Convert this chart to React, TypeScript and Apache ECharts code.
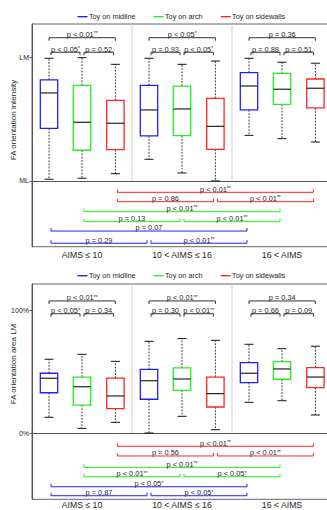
import React, { useEffect, useRef } from "react";
import * as echarts from "echarts";

// ---------- data ----------
const groups = ["AIMS ≤ 10", "10 < AIMS ≤ 16", "16 < AIMS"];
const seriesNames = ["Toy on midline", "Toy on arch", "Toy on sidewalls"];

// Panel 1: FA orientation intensity (ML = 0, LM = 100); per group [min, q1, median, q3, max]
const intensityMidline = [[1.4, 42.7, 71.4, 82.0, 99.5], [17.6, 36.5, 57.6, 77.6, 99.5], [37.0, 57.6, 77.0, 87.8, 99.5]];
const intensityArch = [[2.2, 24.9, 47.6, 77.6, 100], [6.5, 36.7, 58.4, 77.0, 94.6], [34.3, 62.2, 74.4, 87.3, 96.3]];
const intensitySidewalls = [[5.9, 25.4, 46.8, 65.4, 94.6], [0, 25.7, 44.3, 67.0, 97.3], [31.6, 59.2, 75.2, 82.7, 95.5]];

// Panel 2: FA orientation area LM (%)
const areaMidline = [[12.8, 32.8, 44.6, 48.7, 60.1], [0, 27.5, 42.6, 51.9, 74.7], [25.0, 41.0, 48.7, 57.3, 72.3]];
const areaArch = [[3.8, 22.8, 37.7, 45.6, 64.1], [13.6, 34.8, 44.0, 53.0, 76.9], [26.3, 43.8, 52.2, 58.1, 68.7]];
const areaSidewalls = [[8.7, 19.8, 30.2, 44.8, 58.4], [2.7, 21.2, 32.1, 45.6, 75.5], [14.7, 36.9, 45.6, 53.2, 70.7]];

// comparison pairs: [full span, first pair, second pair]
const comparePairs = [[0, 2], [0, 1], [1, 2]];

// within-group p values (per group: midline–sidewalls, midline–arch, arch–sidewalls)
const intensityWithin = [
  ["p < 0.01**", "p < 0.05*", "p = 0.52"],
  ["p < 0.05*", "p = 0.93", "p < 0.05*"],
  ["p = 0.36", "p = 0.88", "p = 0.51"],
];
const areaWithin = [
  ["p < 0.01**", "p < 0.05*", "p = 0.34"],
  ["p < 0.01**", "p = 0.30", "p < 0.01**"],
  ["p = 0.34", "p = 0.66", "p = 0.09"],
];
// between-group p values (per series: G1–G3, G1–G2, G2–G3)
const intensityBetween = [
  ["p = 0.07", "p = 0.29", "p < 0.01**"],
  ["p < 0.01**", "p = 0.13", "p < 0.01**"],
  ["p < 0.01**", "p = 0.86", "p < 0.01**"],
];
const areaBetween = [
  ["p < 0.05*", "p = 0.87", "p < 0.05*"],
  ["p < 0.01**", "p < 0.01**", "p < 0.05*"],
  ["p < 0.01**", "p = 0.56", "p < 0.01**"],
];

const yTickValues = [0, 100];
const intensityTickLabels = ["ML", "LM"];
const areaTickLabels = ["0%", "100%"];
const yTitles = ["FA orientation intensity", "FA orientation area LM"];

// ---------- styles / layout ----------
const seriesColors = ["#2020ff", "#22ee22", "#ff2424"];
const textColor = "#262626";
const axisColor = "#555";
const font = "'Liberation Sans', Arial, Helvetica, sans-serif";
const offsets = [-0.33, 0, 0.334];
const panels = [
  { top: 24, height: 222.7, min: -53.3, max: 127.3, topLevels: [116.2, 104.4], bottomLevels: [-9.2, -16.8, -24.9, -33.0, -40.6, -50.5], legendTop: 13.2, titleY: 120, labelMargin: 3.5 },
  { top: 284, height: 215.3, min: -54.0, max: 121.4, topLevels: [107.6, 97.2], bottomLevels: [-10.8, -18.7, -28.0, -35.6, -43.8, -51.1], legendTop: 272.2, titleY: 364, labelMargin: 1.5 },
];

type Bracket = { g1: number; s1: number; g2: number; s2: number; level: number; text: string; top: boolean; series: number };

function buildBrackets(within: string[][], between: string[][]): Bracket[] {
  const out: Bracket[] = [];
  within.forEach((labels, g) =>
    labels.forEach((t, k) => {
      const [a, b] = comparePairs[k];
      out.push({ g1: g, s1: a, g2: g, s2: b, level: k === 0 ? 0 : 1, text: t, top: true, series: -1 });
    })
  );
  between.forEach((labels, s) =>
    labels.forEach((t, k) => {
      const [a, b] = comparePairs[k];
      out.push({ g1: a, s1: s, g2: b, s2: s, level: (2 - s) * 2 + (k === 0 ? 0 : 1), text: t, top: false, series: s });
    })
  );
  return out;
}

function richLabel(t: string) {
  return t.replace(/(\*+)$/, "{s|$1}");
}

function boxRenderer(offset: number) {
  return (params: any, api: any) => {
    const g = api.value(0);
    const band = api.size([1, 0])[0];
    const xc = api.coord([g, 0])[0] + offset * band;
    const [yMin, yQ1, yMed, yQ3, yMax] = [1, 2, 3, 4, 5].map((i) => api.coord([g, api.value(i)])[1]);
    const hw = 8.7;
    const cw = 4.5;
    const color = api.visual("color");
    const whisker = { stroke: "#222", lineWidth: 0.9, lineDash: [1.8, 1.4], fill: null };
    const solid = { stroke: "#111", lineWidth: 1, fill: null };
    return {
      type: "group",
      children: [
        { type: "line", shape: { x1: xc, y1: yQ3, x2: xc, y2: yMax }, style: whisker },
        { type: "line", shape: { x1: xc, y1: yQ1, x2: xc, y2: yMin }, style: whisker },
        { type: "line", shape: { x1: xc - cw, y1: yMax, x2: xc + cw, y2: yMax }, style: solid },
        { type: "line", shape: { x1: xc - cw, y1: yMin, x2: xc + cw, y2: yMin }, style: solid },
        { type: "rect", shape: { x: xc - hw, y: yQ3, width: hw * 2, height: yQ1 - yQ3 }, style: { stroke: color, lineWidth: 1.3, fill: "rgba(255,255,255,0)" } },
        { type: "line", shape: { x1: xc - hw, y1: yMed, x2: xc + hw, y2: yMed }, style: { stroke: "#222", lineWidth: 1.2 } },
      ],
    };
  };
}

function bracketRenderer(brackets: Bracket[], panel: any) {
  return (params: any, api: any) => {
    const b = brackets[params.dataIndex];
    const band = api.size([1, 0])[0];
    const inset = b.top && b.level === 0 ? 0 : 2;
    const x1 = api.coord([b.g1, 0])[0] + offsets[b.s1] * band + inset;
    const x2 = api.coord([b.g2, 0])[0] + offsets[b.s2] * band - inset;
    const lv = b.top ? panel.topLevels[b.level] : panel.bottomLevels[b.level];
    const y = api.coord([0, lv])[1];
    const tick = b.top ? 3 : -3;
    const color = b.top ? "#333" : seriesColors[b.series];
    return {
      type: "group",
      children: [
        { type: "polyline", shape: { points: [[x1, y + tick], [x1, y], [x2, y], [x2, y + tick]] }, style: { stroke: color, lineWidth: 1, fill: null } },
        {
          type: "text",
          style: {
            x: (x1 + x2) / 2,
            y: y + 0.3,
            text: richLabel(b.text),
            align: "center",
            verticalAlign: "bottom",
            fill: textColor,
            fontSize: 7.4,
            fontFamily: font,
            rich: { s: { fontSize: 5, verticalAlign: "top", fill: textColor, fontFamily: font } },
          },
        },
      ],
    };
  };
}

function separatorRenderer(params: any, api: any) {
  const a = api.value(0);
  const b = api.value(1);
  const x = (api.coord([a, 0])[0] + api.coord([b, 0])[0]) / 2;
  const yTop = params.coordSys.y;
  const yBottom = api.coord([a, 0])[1];
  return { type: "line", shape: { x1: x, y1: yTop, x2: x, y2: yBottom }, style: { stroke: "#cfcfcf", lineWidth: 1 } };
}

function buildOption() {
  const panelData = [
    { boxes: [intensityMidline, intensityArch, intensitySidewalls], brackets: buildBrackets(intensityWithin, intensityBetween), ticks: intensityTickLabels },
    { boxes: [areaMidline, areaArch, areaSidewalls], brackets: buildBrackets(areaWithin, areaBetween), ticks: areaTickLabels },
  ];
  const series: any[] = [];
  panelData.forEach((pd, p) => {
    series.push({
      type: "custom",
      name: "sep" + p,
      xAxisIndex: p,
      yAxisIndex: p,
      silent: true,
      data: [[0, 1], [1, 2]],
      renderItem: separatorRenderer,
      z: 1,
    });
    pd.boxes.forEach((stats, s) => {
      series.push({
        type: "custom",
        name: seriesNames[s],
        xAxisIndex: p,
        yAxisIndex: p,
        itemStyle: { color: seriesColors[s] },
        data: stats.map((v, g) => [g, ...v]),
        encode: { x: 0, y: [1, 2, 3, 4, 5] },
        renderItem: boxRenderer(offsets[s]),
        z: 3,
      });
    });
    series.push({
      type: "custom",
      name: "brackets" + p,
      xAxisIndex: p,
      yAxisIndex: p,
      silent: true,
      data: pd.brackets.map((b) => [b.g1, 0]),
      renderItem: bracketRenderer(pd.brackets, panels[p]),
      z: 4,
    });
  });

  return {
    animation: false,
    textStyle: { fontFamily: font, color: textColor },
    legend: panels.map((pn) => ({
      data: seriesNames,
      left: 77.5,
      top: pn.legendTop,
      padding: 0,
      itemGap: 18,
      itemWidth: 10,
      itemHeight: 1.4,
      icon: "rect",
      selectedMode: false,
      textStyle: { fontSize: 7.3, color: textColor, fontFamily: font, padding: [0, 0, 0, -3.6] },
    })),
    grid: panels.map((pn) => ({
      left: 32,
      top: pn.top,
      width: 300,
      height: pn.height,
      show: true,
      borderColor: "#666",
      borderWidth: 1,
      backgroundColor: "transparent",
      containLabel: false,
      outerBoundsMode: "none",
    })),
    xAxis: panels.map((pn, p) => ({
      type: "category",
      gridIndex: p,
      data: groups,
      axisLine: { lineStyle: { color: axisColor, width: 1 } },
      axisTick: { alignWithLabel: true, inside: true, length: 2.5, lineStyle: { color: axisColor } },
      axisLabel: { fontSize: 8.7, lineHeight: 9, color: textColor, margin: pn.labelMargin, interval: 0, fontFamily: font },
      splitLine: { show: false },
    })),
    yAxis: panels.map((pn, p) => ({
      type: "value",
      gridIndex: p,
      min: pn.min,
      max: pn.max,
      axisLine: { show: true, lineStyle: { color: axisColor, width: 1 } },
      axisTick: { show: true, length: 2.5, customValues: yTickValues, lineStyle: { color: axisColor } },
      axisLabel: {
        customValues: yTickValues,
        fontSize: 7,
        color: textColor,
        margin: 3,
        fontFamily: font,
        formatter: (v: number) => panelData[p].ticks[yTickValues.indexOf(v)] ?? "",
      },
      splitLine: { show: false },
    })),
    graphic: panels.map((pn, p) => ({
      type: "text",
      x: 13,
      y: pn.titleY,
      rotation: Math.PI / 2,
      style: { text: yTitles[p], fontSize: 8, fill: textColor, fontFamily: font, align: "center", verticalAlign: "middle" },
    })),
    series,
  };
}

export default function App() {
  const ref = useRef<HTMLDivElement>(null);
  useEffect(() => {
    if (!ref.current) return;
    const chart = echarts.init(ref.current, undefined, { renderer: "svg" });
    chart.setOption(buildOption() as any);
    return () => chart.dispose();
  }, []);
  return <div ref={ref} style={{ position: "fixed", left: 0, top: 0, width: 327, height: 510, background: "#fff" }} />;
}
